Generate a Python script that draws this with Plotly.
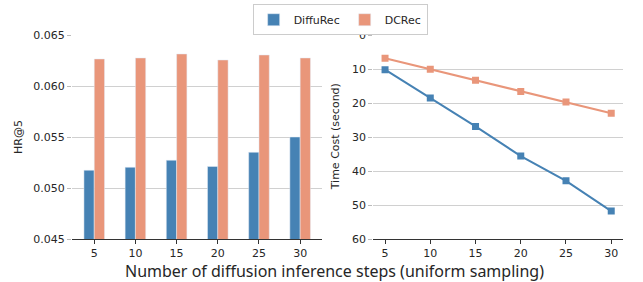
import plotly.graph_objects as go

steps = [5, 10, 15, 20, 25, 30]
step_labels = ["5", "10", "15", "20", "25", "30"]
hr_diffurec = [0.05174, 0.05203, 0.05272, 0.05211, 0.05350, 0.05500]
hr_dcrec = [0.06265, 0.06275, 0.06314, 0.06255, 0.06304, 0.06275]
time_diffurec = [10.2, 18.5, 26.9, 35.6, 42.9, 51.8]
time_dcrec = [6.85, 10.1, 13.3, 16.6, 19.7, 23.0]

BLUE = "#4682B4"
ORANGE = "#E9967A"
idx = list(range(len(steps)))

fig = go.Figure()
fig.add_trace(go.Bar(x=idx, y=hr_diffurec, width=0.25, offset=-0.25, marker_color=BLUE,
                     name="DiffuRec", showlegend=True, xaxis="x", yaxis="y"))
fig.add_trace(go.Bar(x=idx, y=hr_dcrec, width=0.25, offset=0, marker_color=ORANGE,
                     name="DCRec", showlegend=True, xaxis="x", yaxis="y"))
fig.add_trace(go.Scatter(x=steps, y=time_diffurec, mode="lines+markers", name="DiffuRec",
                         line=dict(color=BLUE, width=2), marker=dict(symbol="square", size=7, color=BLUE),
                         showlegend=False, xaxis="x2", yaxis="y2"))
fig.add_trace(go.Scatter(x=steps, y=time_dcrec, mode="lines+markers", name="DCRec",
                         line=dict(color=ORANGE, width=2), marker=dict(symbol="square", size=7, color=ORANGE),
                         showlegend=False, xaxis="x2", yaxis="y2"))

tickfont = dict(family="DejaVu Sans", size=11, color="#262626")
common_y = dict(showgrid=True, gridcolor="#d0d0d0", gridwidth=1, zeroline=False, showline=False,
                ticks="outside", ticklen=4, tickcolor="#bbbbbb", tickfont=tickfont)
common_x = dict(showgrid=False, zeroline=False, showline=True, linecolor="#333333", linewidth=1,
                ticks="outside", ticklen=4, tickcolor="#333333", tickfont=tickfont)

fig.update_layout(
    width=643, height=282,
    margin=dict(l=72, r=20, t=35, b=43, autoexpand=False),
    plot_bgcolor="white", paper_bgcolor="white",
    font=dict(family="DejaVu Sans", color="#262626"),
    xaxis=dict(domain=[0, 0.4537], range=[-0.54, 5.53], tickvals=idx, ticktext=step_labels, **common_x),
    yaxis=dict(range=[0.045, 0.065], tickvals=[0.045, 0.050, 0.055, 0.060, 0.065],
               tickformat=".3f", **common_y),
    xaxis2=dict(domain=[0.5468, 1], range=[3.7, 31.3], tickvals=steps, ticktext=step_labels,
                anchor="y2", **common_x),
    yaxis2=dict(range=[60, 0], tickvals=[0, 10, 20, 30, 40, 50, 60], anchor="x2", **common_y),
    legend=dict(orientation="h", x=0.529, xanchor="center", y=0.985, yanchor="top",
                xref="container", yref="container",
                bordercolor="#cccccc", borderwidth=1, font=dict(family="DejaVu Sans", size=11, color="#262626"),
                itemwidth=30, tracegroupgap=0),
    annotations=[
        dict(text="Number of diffusion inference steps (uniform sampling)", xref="paper", yref="paper",
             x=0.4755, y=0, yshift=-19, xanchor="center", yanchor="top", showarrow=False,
             font=dict(family="Noto Sans", size=16, color="#262626")),
        dict(text="HR@5", xref="paper", yref="paper", x=0, y=0.5, xshift=-54, textangle=-90,
             showarrow=False, xanchor="center", yanchor="middle",
             font=dict(family="DejaVu Sans", size=11, color="#262626")),
        dict(text="Time Cost (second)", xref="paper", yref="paper", x=0.5468, y=0.5, xshift=-38,
             textangle=-90, showarrow=False, xanchor="center", yanchor="middle",
             font=dict(family="DejaVu Sans", size=11, color="#262626")),
    ],
)

fig.write_html("out.html", post_script="document.body.style.margin='0';",
               config={"displayModeBar": False})
